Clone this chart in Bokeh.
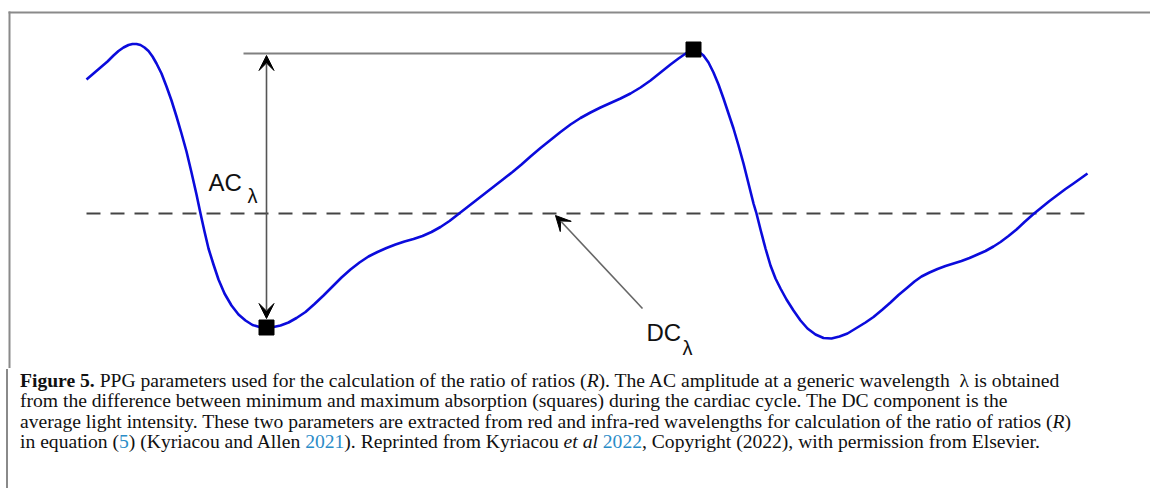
import numpy as np
from bokeh.plotting import figure
from bokeh.models import Range1d, Arrow, VeeHead, Div
from bokeh.layouts import column
from bokeh.core.properties import value
from bokeh.embed import file_html
from bokeh.resources import INLINE

# ---- data: sample index and PPG level (a.u. counts) ----
sample = [0, 7, 14, 21, 27, 32, 37, 42, 46, 50, 54, 58, 62, 66, 70, 75, 80, 85, 90, 95,
          100, 105, 110, 114, 118, 122, 127, 132, 138, 145, 152, 159, 166, 173, 180,
          187, 194, 202, 210, 219, 228, 237, 246, 255, 264, 273, 282, 291, 300, 309,
          318, 327, 336, 345, 354, 363, 372, 381, 390, 399, 408, 417, 426, 435, 444,
          454, 464, 474, 484, 494, 504, 514, 524, 534, 544, 554, 564, 574, 584, 592,
          600, 607,
          612, 617, 622, 627, 632, 637, 642, 647, 652, 657, 662, 667, 670, 674, 679,
          684, 689, 694, 700, 707, 714, 721, 729, 737, 745, 753, 761, 770, 779, 787,
          796, 804, 812, 821, 828, 835, 843, 851, 859, 867, 875, 883, 891, 899, 907,
          914, 922, 930, 938, 947, 955, 963, 971, 979, 987, 994, 1001]
ppg = [289, 295, 301, 307, 313, 317.5, 321, 323.5, 324.5, 324.5, 323.5, 321, 317.5, 312,
       305, 295, 282, 268, 252, 235, 217, 196, 174, 155, 137, 120, 104, 89, 75, 63, 54,
       48, 43.5, 41.5, 41,
       41.5, 43, 46, 50.5, 56.5, 64.5, 73, 82, 91, 99, 106, 112, 116.5, 120.5, 124,
       127, 129.5, 132.5, 136.5, 141.5, 147.5, 154.5, 161.5, 168.5, 175.5, 182.5, 189.5,
       196.5, 204, 212, 220.5, 228.5, 236.5, 244, 250.5, 256, 261, 265.5, 270, 275, 281,
       288, 296, 304, 310, 315.5, 319,
       317, 313, 306, 296, 284, 270, 255, 240, 223, 205, 185, 165, 155, 139, 120, 103,
       90, 80, 69, 58, 48, 40, 34, 30.5, 30, 32, 35, 40.5, 46, 51.5, 59, 66, 73.5, 81,
       87, 92, 96, 99.5, 102.5, 105, 107.5, 110.5, 114, 117.5, 122, 126.5, 132.5, 139,
       146.5, 154.5, 161, 167.5, 173.5, 179.5, 185, 190, 195]
dc_level = 155
guide_level = 315
labels = ["AC", "λ", "DC", "λ"]

s_arr = np.array(sample, dtype=float)
y_arr = np.array(ppg, dtype=float)
first = s_arr < 400
i_min = int(np.argmin(np.where(first, y_arr, np.inf)))
second = (s_arr > s_arr[i_min]) & (s_arr < 650)
i_max = int(np.argmax(np.where(second, y_arr, -np.inf)))
s_min, y_min = s_arr[i_min], y_arr[i_min]
s_max, y_max = s_arr[i_max], y_arr[i_max]

W, H = 1150, 368
p = figure(width=W, height=H, x_range=Range1d(-86, W - 86), y_range=Range1d(0, H),
           toolbar_location=None, output_backend="svg",
           x_axis_type=None, y_axis_type=None, min_border=0)
p.outline_line_color = None
p.background_fill_color = "white"

# frame border (top and left only)
border = "#8a8a8a"
p.line([-78, W - 86], [356, 356], line_color=border, line_width=2)
p.line([-77, -77], [357, 0], line_color=border, line_width=2)

# DC dashed level
p.line([sample[0], sample[-1] - 2], [dc_level, dc_level], line_color="#444444",
       line_width=2, line_dash="14 10")

# guide line at the maximum
p.line([157, s_max], [guide_level, guide_level], line_color="#808080", line_width=2)

# PPG curve
p.line(sample, ppg, line_color="#0b0bdc", line_width=2.6, line_join="round")

head = dict(size=15, fill_color="black", line_color="black", line_width=1)
p.add_layout(Arrow(x_start=s_min, y_start=guide_level - 2, x_end=s_min, y_end=y_min + 9,
                   start=VeeHead(**head), end=VeeHead(**head),
                   line_color="#555555", line_width=1.6))
p.add_layout(Arrow(x_start=556, y_start=60, x_end=469, y_end=153,
                   end=VeeHead(**head), line_color="#666666", line_width=1.6))

p.scatter([s_min, s_max], [y_min, y_max], marker="square", size=15,
          fill_color="black", line_color="black")

lab_font = value("Liberation Sans")
p.text([122, 560], [186, 36], text=[labels[0], labels[2]], text_font=lab_font,
       text_font_size="24px", text_color="#111111", text_baseline="alphabetic",
       text_align="left")
p.text([161, 596], [173, 21], text=[labels[1], labels[3]], text_font=lab_font,
       text_font_size="20px", text_color="#111111", text_baseline="alphabetic",
       text_align="left")

blue = "#2a8cc8"
caption_lines = [
    "<b>Figure 5.</b> PPG parameters used for the calculation of the ratio of ratios (<i>R</i>). "
    "The AC amplitude at a generic wavelength &nbsp;λ is obtained",
    "from the difference between minimum and maximum absorption (squares) during the cardiac cycle. "
    "The DC component is the",
    "average light intensity. These two parameters are extracted from red and infra-red wavelengths "
    "for calculation of the ratio of ratios (<i>R</i>)",
    f"in equation (<span style='color:{blue}'>5</span>) (Kyriacou and Allen "
    f"<span style='color:{blue}'>2021</span>). Reprinted from Kyriacou <i>et al</i> "
    f"<span style='color:{blue}'>2022</span>, Copyright (2022), with permission from Elsevier.",
]
line_html = "".join(f"<div style='height:20.3px; line-height:20.3px;'>{ln}</div>"
                    for ln in caption_lines)
html = ("<div style=\"margin-left:1px; margin-top:-4px; border-left:2px solid #8a8a8a; "
        "height:124px; box-sizing:border-box; padding-left:12px; padding-top:2px; "
        "font-family:'Liberation Serif', serif; font-size:19.6px; white-space:nowrap; "
        "color:#111111;\">" + line_html + "</div>")
cap = Div(text=html, width=W, height=118)

layout = column(p, cap, spacing=0)
open("out.html", "w").write(file_html(layout, INLINE))
